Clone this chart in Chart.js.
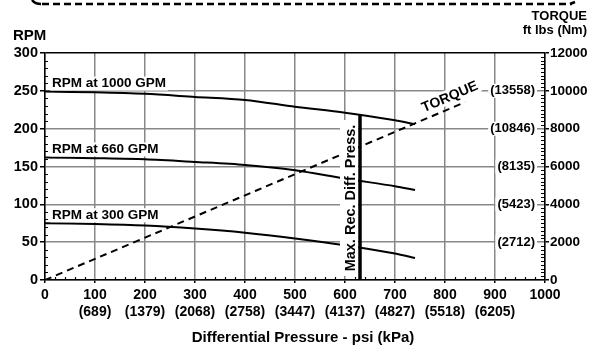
<!DOCTYPE html>
<html>
<head>
<meta charset="utf-8">
<script src="https://cdn.jsdelivr.net/npm/chart.js@4.4.1/dist/chart.umd.min.js"></script>
<style>
  body { margin: 0; background: #fff; }
  canvas { display: block; }
</style>
</head>
<body>
<canvas id="pumpChart" width="595" height="347"></canvas>
<script>
// chart data
const psi = [0, 100, 200, 300, 400, 500, 600, 700, 740];
const rpm1000 = [249, 248, 246, 242, 238, 229, 221, 211, 206];
const rpm660 = [162, 161, 159.5, 156, 152, 145, 134, 124, 119];
const rpm300 = [75, 74, 72, 68, 62.5, 55, 46, 35, 29];
const seriesNames = ['RPM at 1000 GPM', 'RPM at 660 GPM', 'RPM at 300 GPM'];
const torquePsi = [0, 840];
const torqueFtLbs = [0, 9400];
const maxRecPsi = 630;
const maxRecRpm = 218;
const kpaLabels = ['', '(689)', '(1379)', '(2068)', '(2758)', '(3447)', '(4137)', '(4827)', '(5518)', '(6205)', ''];
const torqueTicks = [2000, 4000, 6000, 8000, 10000];
const nmLabels = ['(2712)', '(5423)', '(8135)', '(10846)', '(13558)'];

const FONT = '"Liberation Sans", Arial, sans-serif';
const GRID = '#888';

const toPoints = (xs, ys) => xs.map((x, i) => ({ x: x, y: ys[i] }));

function whiteBoxText(ctx, text, x, y, align) {
  const w = ctx.measureText(text).width;
  const left = align === 'right' ? x - w : x;
  ctx.fillStyle = '#fff';
  ctx.fillRect(left - 2, y - 7, w + 4, 14);
  ctx.fillStyle = '#000';
  ctx.textAlign = align;
  ctx.fillText(text, x, y);
}

const decorations = {
  id: 'decorations',
  afterDatasetsDraw(chart) {
    const ctx = chart.ctx;
    const x = chart.scales.x, y = chart.scales.y, y2 = chart.scales.y2;
    const area = chart.chartArea;
    ctx.save();
    ctx.textBaseline = 'middle';

    // series labels
    ctx.font = 'bold 13.5px ' + FONT;
    [rpm1000, rpm660, rpm300].forEach((s, i) => {
      whiteBoxText(ctx, seriesNames[i], x.getPixelForValue(14), y.getPixelForValue(s[0]) - 8, 'left');
    });

    // Nm labels
    ctx.font = 'bold 13px ' + FONT;
    torqueTicks.forEach((t, i) => {
      whiteBoxText(ctx, nmLabels[i], area.right - 10, y2.getPixelForValue(t), 'right');
    });

    // max recommended pressure label
    const mx = x.getPixelForValue(maxRecPsi);
    ctx.fillStyle = '#fff';
    ctx.fillRect(mx - 20, 120, 18, area.bottom - 124);
    ctx.save();
    ctx.translate(mx - 10, (120 + area.bottom - 4) / 2);
    ctx.rotate(-Math.PI / 2);
    ctx.fillStyle = '#000';
    ctx.textAlign = 'center';
    ctx.font = 'bold 14.5px ' + FONT;
    ctx.fillText('Max. Rec. Diff. Press.', 0, 1);
    ctx.restore();

    // torque label along the dashed line
    const p0 = { x: x.getPixelForValue(torquePsi[0]), y: y2.getPixelForValue(torqueFtLbs[0]) };
    const p1 = { x: x.getPixelForValue(torquePsi[1]), y: y2.getPixelForValue(torqueFtLbs[1]) };
    const ang = Math.atan2(p1.y - p0.y, p1.x - p0.x);
    ctx.save();
    ctx.translate(450, 97);
    ctx.rotate(ang);
    ctx.font = 'bold 14px ' + FONT;
    const tw = ctx.measureText('TORQUE').width;
    ctx.fillStyle = '#fff';
    ctx.fillRect(-tw / 2 - 2, -8, tw + 4, 15);
    ctx.fillStyle = '#000';
    ctx.textAlign = 'center';
    ctx.fillText('TORQUE', 0, 0);
    ctx.restore();

    // minor ticks
    ctx.strokeStyle = '#000';
    ctx.lineWidth = 1.2;
    ctx.beginPath();
    for (let v = 10; v < 300; v += 10) {
      if (v % 50 === 0) continue;
      const py = Math.round(y.getPixelForValue(v)) + 0.5;
      ctx.moveTo(area.left, py); ctx.lineTo(area.left + 3, py);
    }
    for (let v = 200; v < 12000; v += 200) {
      if (v % 2000 === 0) continue;
      const py = Math.round(y2.getPixelForValue(v)) + 0.5;
      ctx.moveTo(area.right - 4, py); ctx.lineTo(area.right, py);
    }
    for (let v = 20; v < 1000; v += 20) {
      if (v % 100 === 0) continue;
      const px = Math.round(x.getPixelForValue(v)) + 0.5;
      ctx.moveTo(px, area.bottom); ctx.lineTo(px, area.bottom - 3);
    }
    ctx.stroke();

    // axis titles
    ctx.fillStyle = '#000';
    ctx.textAlign = 'left';
    ctx.font = 'bold 15px ' + FONT;
    ctx.fillText('RPM', 13, 36);
    ctx.textAlign = 'right';
    ctx.font = 'bold 13px ' + FONT;
    ctx.fillText('TORQUE', 587, 16);
    ctx.fillText('ft lbs (Nm)', 587, 30);
    ctx.textAlign = 'center';
    ctx.font = 'bold 15px ' + FONT;
    ctx.fillText('Differential Pressure - psi (kPa)', 303, 338);

    // dashed bracket across the top
    ctx.lineWidth = 2.5;
    ctx.setLineDash([7, 4]);
    ctx.beginPath();
    ctx.moveTo(42, 4);
    ctx.lineTo(572, 4);
    ctx.stroke();
    ctx.setLineDash([]);
    ctx.beginPath();
    ctx.moveTo(41, 4); ctx.quadraticCurveTo(35, 4, 32, 0);
    ctx.moveTo(570, 4); ctx.lineTo(575, 2);
    ctx.stroke();
    ctx.restore();
  }
};

new Chart(document.getElementById('pumpChart'), {
  type: 'line',
  data: {
    datasets: [
      { data: toPoints(torquePsi, torqueFtLbs), yAxisID: 'y2', borderDash: [7, 5], borderWidth: 2 },
      { data: toPoints(psi, rpm1000), yAxisID: 'y', borderWidth: 2 },
      { data: toPoints(psi, rpm660), yAxisID: 'y', borderWidth: 2 },
      { data: toPoints(psi, rpm300), yAxisID: 'y', borderWidth: 2 },
      { data: toPoints([maxRecPsi, maxRecPsi], [0, maxRecRpm]), yAxisID: 'y', borderWidth: 3.5 }
    ]
  },
  options: {
    responsive: false,
    animation: false,
    devicePixelRatio: 1,
    layout: { padding: { top: 53, left: 0, right: 0, bottom: 0 } },
    elements: {
      point: { radius: 0 },
      line: { borderColor: '#000', tension: 0.3, fill: false }
    },
    plugins: { legend: { display: false }, tooltip: { enabled: false } },
    scales: {
      x: {
        type: 'linear', min: 0, max: 1000,
        afterFit: s => { s.height = 67; },
        ticks: {
          stepSize: 100, autoSkip: false, maxRotation: 0, padding: 4, color: '#000',
          font: { family: FONT, size: 14, weight: 'bold' },
          callback: (v) => kpaLabels[v / 100] ? [String(v), kpaLabels[v / 100]] : String(v)
        },
        grid: { color: GRID, lineWidth: 1.5, tickLength: 3, tickColor: '#000' },
        border: { color: '#000', width: 1.5 }
      },
      y: {
        position: 'left', min: 0, max: 300,
        afterFit: s => { s.width = 45; },
        ticks: { stepSize: 50, padding: 2, color: '#000', font: { family: FONT, size: 14.5, weight: 'bold' } },
        grid: {
          color: c => (c.tick && c.tick.value === 300) ? '#000' : GRID,
          lineWidth: 1.5, tickLength: 5, tickColor: '#000'
        },
        border: { color: '#000', width: 1.5 }
      },
      y2: {
        position: 'right', min: 0, max: 12000,
        afterFit: s => { s.width = 50; },
        ticks: {
          stepSize: 2000, padding: 1, color: '#000',
          font: { family: FONT, size: 13.5, weight: 'bold' },
          callback: (v) => String(v)
        },
        grid: { drawOnChartArea: false, tickLength: 4, tickColor: '#000', lineWidth: 1.5 },
        border: { color: '#000', width: 1.5 }
      }
    }
  },
  plugins: [decorations]
});
</script>
</body>
</html>
